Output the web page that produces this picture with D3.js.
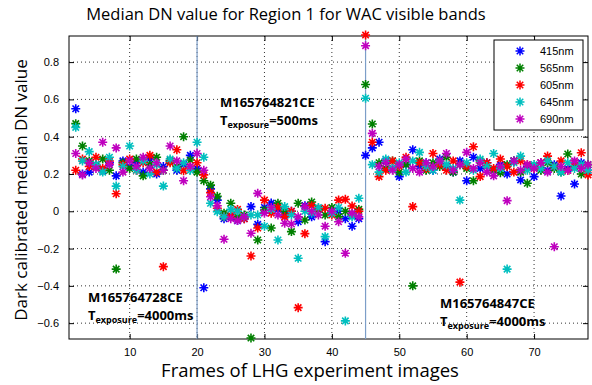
<!DOCTYPE html>
<html>
<head>
<meta charset="utf-8">
<script src="https://cdn.jsdelivr.net/npm/d3@7"></script>
<style>
  body { margin: 0; background: #fff; }
  svg { display: block; font-family: "Liberation Sans", Arial, sans-serif; }
</style>
</head>
<body>
<div id="chart"></div>
<script>
// frames 2..78
const frames = d3.range(2, 79);

const blue415 = [
  0.55, 0.20, 0.21, 0.25, 0.22, 0.26, 0.19, 0.27, 0.24, 0.26, 0.21, 0.28, 0.20, 0.24, 0.27, 0.22, 0.25, 0.30, 0.23,
  -0.41, 0.12, 0.06, -0.04, -0.03, -0.05, -0.04, 0.025, -0.07, 0.02, 0.044, 0.01, -0.02, 0.0, -0.056, 0.03, -0.03, 0.01, -0.163, -0.01, 0.0, -0.04, -0.08, -0.04,
  0.30, 0.34, 0.37,
  0.27, 0.23, 0.186, 0.25, 0.33, 0.24, 0.26, 0.22, 0.28, 0.24, 0.21, 0.27, 0.164, 0.29, 0.23, 0.26, 0.22, 0.25, 0.20, 0.27, 0.168, 0.24, 0.186, 0.26, 0.22, 0.25, 0.082, 0.23, 0.146, 0.26, 0.22
];
const green565 = [
  0.47, 0.35, 0.27, 0.24, 0.28, 0.22, -0.31, 0.26, 0.23, 0.28, 0.19, 0.25, 0.29, 0.22, 0.27, 0.24, 0.40, 0.275, 0.21,
  0.164, 0.14, 0.08, -0.01, 0.043, -0.03, -0.02, -0.68, -0.154, 0.007, -0.09, 0.043, 0.0, -0.109, 0.043, -0.047, 0.05, 0.01, -0.02, 0.02, -0.03, 0.0, -0.018, 0.01,
  0.68, 0.468, 0.26,
  0.23, 0.27, 0.21, 0.25, -0.40, 0.27, 0.22, 0.26, 0.24, 0.29, 0.21, 0.25, 0.23, 0.164, 0.27, 0.24, 0.22, 0.207, 0.25, 0.27, 0.21, 0.15, 0.24, 0.22, 0.26, 0.23, 0.21, 0.307, 0.24, 0.20, 0.25
];
const red605 = [
  0.22, 0.28, 0.24, 0.29, 0.23, 0.27, 0.094, 0.25, 0.28, 0.22, 0.26, 0.30, 0.21, -0.297, 0.26, 0.33, 0.218, 0.24, 0.26,
  0.195, 0.10, 0.016, -0.03, -0.02, 0.01, -0.04, -0.24, -0.09, 0.06, -0.01, 0.02, -0.03, 0.0, -0.517, -0.12, 0.03, 0.016, 0.016, -0.02, 0.06, 0.064, 0.028, 0.0,
  0.945, 0.37, 0.186,
  0.22, 0.27, 0.24, 0.29, 0.025, 0.26, 0.23, 0.31, 0.25, 0.22, 0.27, -0.38, 0.24, 0.346, 0.186, 0.26, 0.23, 0.28, 0.24, 0.21, 0.27, 0.25, 0.23, 0.26, 0.296, 0.24, 0.27, 0.22, 0.26, 0.314, 0.195
];
const cyan645 = [
  0.45, 0.27, 0.32, 0.25, 0.21, 0.29, 0.135, 0.24, 0.35, 0.22, 0.27, 0.20, 0.25, 0.135, 0.28, 0.23, 0.26, 0.22, 0.37,
  0.29, 0.043, -0.002, -0.03, 0.01, 0.0, -0.03, -0.02, -0.02, -0.08, 0.01, -0.154, 0.025, -0.02, -0.252, 0.0, -0.01, 0.02, -0.136, -0.01, 0.02, -0.588, -0.03, 0.07,
  0.606, 0.25, 0.21,
  0.28, 0.23, 0.26, 0.21, 0.27, 0.316, 0.24, 0.22, 0.27, 0.25, 0.23, 0.06, 0.26, 0.22, 0.28, 0.24, 0.31, 0.23, -0.31, 0.26, 0.296, 0.22, 0.25, 0.23, 0.27, 0.24, 0.21, 0.26, 0.23, 0.25, 0.22
];
const magenta690 = [
  0.31, 0.195, 0.26, 0.23, 0.37, 0.25, 0.34, 0.21, 0.27, 0.24, 0.29, 0.23, 0.26, 0.22, 0.35, 0.27, 0.164, 0.24, 0.31,
  0.22, 0.078, 0.03, -0.15, -0.04, -0.05, -0.03, -0.118, 0.096, -0.01, 0.02, -0.02, -0.064, -0.068, -0.03, 0.025, 0.0, -0.02, -0.08, 0.0, -0.056, -0.225, -0.01, -0.03,
  0.888, 0.418, 0.24,
  0.26, 0.22, 0.25, 0.28, 0.23, 0.21, 0.26, 0.24, 0.27, 0.31, 0.22, 0.25, 0.316, 0.23, 0.26, 0.21, 0.19, 0.24, 0.057, 0.27, 0.22, 0.25, 0.23, 0.26, 0.21, -0.19, 0.24, 0.22, 0.27, 0.23, 0.25
];

const seriesNames = ['415nm', '565nm', '605nm', '645nm', '690nm'];
const seriesValues = [blue415, green565, red605, cyan645, magenta690];
const seriesColors = ['#0000ff', '#008000', '#ff0000', '#00bfbf', '#bf00bf'];

const xTicks = [10, 20, 30, 40, 50, 60, 70];
const yTicks = [-0.6, -0.4, -0.2, 0, 0.2, 0.4, 0.6, 0.8];
const markerLines = [20, 45];

const width = 592, height = 385;
const pLeft = 69, pRight = 588, pTop = 36, pBottom = 339;

const svg = d3.select('#chart').append('svg')
  .attr('width', width)
  .attr('height', height);

const x = d3.scaleLinear().domain([1, 78]).range([pLeft, pRight]);
const y = d3.scaleLinear().domain([-0.685, 0.94]).range([pBottom, pTop]);

// dotted grid
svg.append('g').selectAll('line')
  .data(xTicks).enter().append('line')
  .attr('x1', d => x(d)).attr('x2', d => x(d))
  .attr('y1', pTop).attr('y2', pBottom)
  .attr('stroke', '#333').attr('stroke-width', 1)
  .attr('stroke-dasharray', '1,3');
svg.append('g').selectAll('line')
  .data(yTicks).enter().append('line')
  .attr('x1', pLeft).attr('x2', pRight)
  .attr('y1', d => y(d)).attr('y2', d => y(d))
  .attr('stroke', '#333').attr('stroke-width', 1)
  .attr('stroke-dasharray', '1,3');

// axes, ticks pointing inward
const fmt = d => d === 0 ? '0' : d3.format('.1f')(d);
svg.append('g')
  .attr('transform', `translate(0,${pBottom})`)
  .call(d3.axisBottom(x).tickValues(xTicks).tickSize(-5).tickPadding(9))
  .call(g => g.select('.domain').remove());
svg.append('g')
  .attr('transform', `translate(0,${pTop})`)
  .call(d3.axisTop(x).tickValues(xTicks).tickSize(-5).tickFormat(''))
  .call(g => g.select('.domain').remove());
svg.append('g')
  .attr('transform', `translate(${pLeft},0)`)
  .call(d3.axisLeft(y).tickValues(yTicks).tickSize(-5).tickPadding(10).tickFormat(fmt))
  .call(g => g.select('.domain').remove());
svg.append('g')
  .attr('transform', `translate(${pRight},0)`)
  .call(d3.axisRight(y).tickValues(yTicks).tickSize(-5).tickFormat(''))
  .call(g => g.select('.domain').remove());
svg.selectAll('.tick text').attr('font-size', 11).attr('fill', '#000')
  .attr('font-family', '"Liberation Sans", Arial, sans-serif');
svg.selectAll('.tick line').attr('stroke', '#000');

svg.append('rect')
  .attr('x', pLeft).attr('y', pTop)
  .attr('width', pRight - pLeft).attr('height', pBottom - pTop)
  .attr('fill', 'none').attr('stroke', '#000').attr('stroke-width', 1);

// exposure change lines
svg.append('g').selectAll('line')
  .data(markerLines).enter().append('line')
  .attr('x1', d => x(d)).attr('x2', d => x(d))
  .attr('y1', pTop).attr('y2', pBottom)
  .attr('stroke', '#7c9ec8').attr('stroke-width', 1.2);

// asterisk marker
const r = 4.5, rd = r * 0.72;
const star = `M${-r},0L${r},0M0,${-r}L0,${r}M${-rd},${-rd}L${rd},${rd}M${-rd},${rd}L${rd},${-rd}`;

seriesValues.forEach((vals, si) => {
  svg.append('g').selectAll('path')
    .data(vals.map((v, i) => ({ f: frames[i], v })))
    .enter().append('path')
    .attr('d', star)
    .attr('transform', d => `translate(${x(d.f)},${y(d.v)})`)
    .attr('fill', 'none')
    .attr('stroke', seriesColors[si])
    .attr('stroke-width', 1.6);
});

// legend
const lg = svg.append('g');
lg.append('rect')
  .attr('x', 494).attr('y', 40).attr('width', 89).attr('height', 90)
  .attr('fill', '#fff').attr('stroke', '#000').attr('stroke-width', 1);
seriesNames.forEach((name, i) => {
  const yy = 51 + i * 17;
  lg.append('path').attr('d', star)
    .attr('transform', `translate(520,${yy})`)
    .attr('fill', 'none').attr('stroke', seriesColors[i]).attr('stroke-width', 1.5);
  lg.append('text').attr('x', 540).attr('y', yy + 4)
    .attr('font-size', 11).text(name);
});

// titles
const labelFont = '"Open Sans", "Liberation Sans", sans-serif';
svg.append('text')
  .attr('x', 286).attr('y', 20)
  .attr('text-anchor', 'middle')
  .attr('font-family', labelFont).attr('font-size', 16.5)
  .text('Median DN value for Region 1 for WAC visible bands');
svg.append('text')
  .attr('x', 310).attr('y', 377)
  .attr('text-anchor', 'middle')
  .attr('font-family', labelFont).attr('font-size', 18.5)
  .text('Frames of LHG experiment images');
svg.append('text')
  .attr('transform', 'translate(27,190) rotate(-90)')
  .attr('text-anchor', 'middle')
  .attr('font-family', labelFont).attr('font-size', 17)
  .text('Dark calibrated median DN value');

// annotations
const notes = [
  { id: 'M165764821CE', t: '=500ms', x: 220, y: 107 },
  { id: 'M165764728CE', t: '=4000ms', x: 88, y: 302 },
  { id: 'M165764847CE', t: '=4000ms', x: 440, y: 308 }
];
notes.forEach(n => {
  const g = svg.append('g').attr('font-family', labelFont).attr('font-weight', 'bold');
  g.append('text').attr('x', n.x).attr('y', n.y).attr('font-size', 13).text(n.id);
  const t = g.append('text').attr('x', n.x).attr('y', n.y + 18).attr('font-size', 13);
  t.append('tspan').text('T');
  t.append('tspan').attr('font-size', 9).attr('dy', 3).text('exposure');
  t.append('tspan').attr('dy', -3).text(n.t);
});
</script>
</body>
</html>
